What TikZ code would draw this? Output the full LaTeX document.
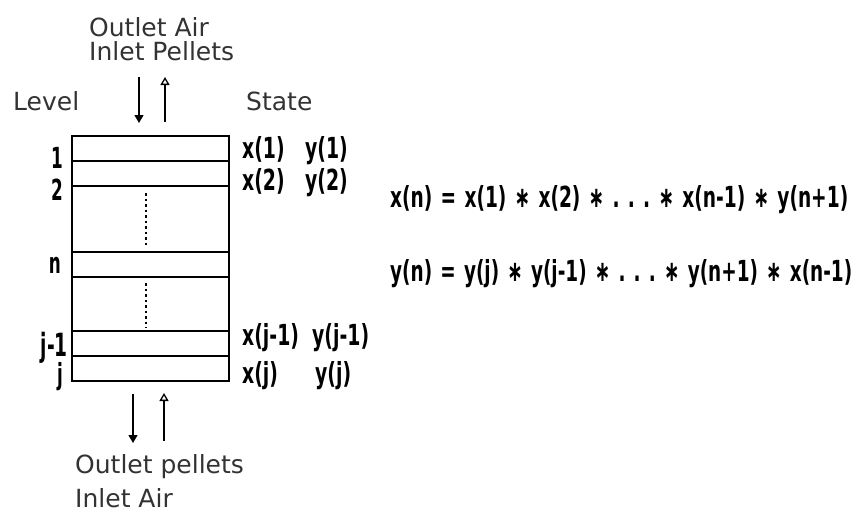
\documentclass[tikz,border=0pt]{standalone}
\usepackage{fontspec}
\usepackage{graphicx}
\usetikzlibrary{arrows.meta}
\setmainfont{DejaVu Sans}
\newfontfamily\condfont[FakeStretch=0.65]{DejaVu Sans Bold}
\newfontfamily\lvlfont[FakeStretch=0.58]{DejaVu Sans Bold}
\newfontfamily\eqfont[FakeStretch=0.66]{DejaVu Sans Bold}
\newcommand\eqgap{\hspace{8.5pt}}
\begin{document}
\begin{tikzpicture}[x=1pt,y=-1pt,
  lbl/.style={anchor=base west,inner sep=0pt,font=\fontsize{25}{30}\selectfont,text=black!80},
  cnd/.style={anchor=base west,inner sep=0pt,font=\condfont\fontsize{29}{32}\selectfont},
  eqn/.style={anchor=base west,inner sep=0pt,font=\eqfont\fontsize{29}{32}\selectfont},
  lvl/.style={anchor=base east,inner sep=0pt,font=\lvlfont\fontsize{29}{32}\selectfont},
  flow/.style={line width=1.3pt},
  boxline/.style={line width=1.5pt},
  dots/.style={line width=2pt,dash pattern=on 2.5pt off 3pt}]
\useasboundingbox (0,0) rectangle (856,514);
% texts
\node[lbl] (oa) at (89,36) {Outlet Air};
\node[lbl] (ip) at (89,60) {Inlet Pellets};
\node[lbl] (lv) at (13,110) {Level};
\node[lbl] (st) at (246,110) {State};
\node[lbl] (op) at (75,473) {Outlet pellets};
\node[lbl] (ia) at (75,507) {Inlet Air};
% box
\draw[boxline] (72,136) rectangle (229,381);
\foreach \yy in {161,186,252,277,331,356}{\draw[boxline] (72,\yy) -- (229,\yy);}
\draw[dots] (146,193) -- (146,245);
\draw[dots] (146,283) -- (146,328);
% arrows
\coordinate (a1s) at (139,77); \coordinate (a1e) at (139,123);
\coordinate (a2s) at (165,122); \coordinate (a2e) at (165,77);
\coordinate (b1s) at (133,394); \coordinate (b1e) at (133,443);
\coordinate (b2s) at (164,441); \coordinate (b2e) at (164,393);
\draw[flow,-{Triangle[width=9pt,length=8pt]}] (a1s) -- (a1e);
\draw[flow,-{Triangle[open,width=9pt,length=8pt]}] (a2s) -- (a2e);
\draw[flow,-{Triangle[width=9pt,length=8pt]}] (b1s) -- (b1e);
\draw[flow,-{Triangle[open,width=9pt,length=8pt]}] (b2s) -- (b2e);
% level labels
\node[lvl] (l1) at (63,168) {1};
\node[lvl] (l2) at (63,200) {2};
\node[lvl] (ln) at (61,273) {n};
\node[lvl,font=\lvlfont\fontsize{32}{36}\selectfont] (lj1) at (68,356) {j-1};
\node[lvl] (lj) at (63,384) {j};
% state labels
\node[cnd] (x1) at (242,158) {x(1)};
\node[cnd] (y1) at (305,158) {y(1)};
\node[cnd] (x2) at (242,190) {x(2)};
\node[cnd] (y2) at (305,190) {y(2)};
\node[cnd] (xj1) at (242,345) {x(j-1)};
\node[cnd] (yj1) at (312,345) {y(j-1)};
\node[cnd] (xj) at (242,383) {x(j)};
\node[cnd] (yj) at (315,383) {y(j)};
% equations
\node[eqn] (eq1) at (390,207) {\resizebox{458pt}{\height}{x(n)\eqgap=\eqgap x(1)\eqgap∗\eqgap x(2)\eqgap∗\eqgap.\eqgap.\eqgap.\eqgap∗\eqgap x(n-1)\eqgap∗\eqgap y(n+1)}};
\node[eqn] (eq2) at (390,281) {\resizebox{462pt}{\height}{y(n)\eqgap=\eqgap y(j)\eqgap∗\eqgap y(j-1)\eqgap∗\eqgap.\eqgap.\eqgap.\eqgap∗\eqgap y(n+1)\eqgap∗\eqgap x(n-1)}};
\end{tikzpicture}
\end{document}
